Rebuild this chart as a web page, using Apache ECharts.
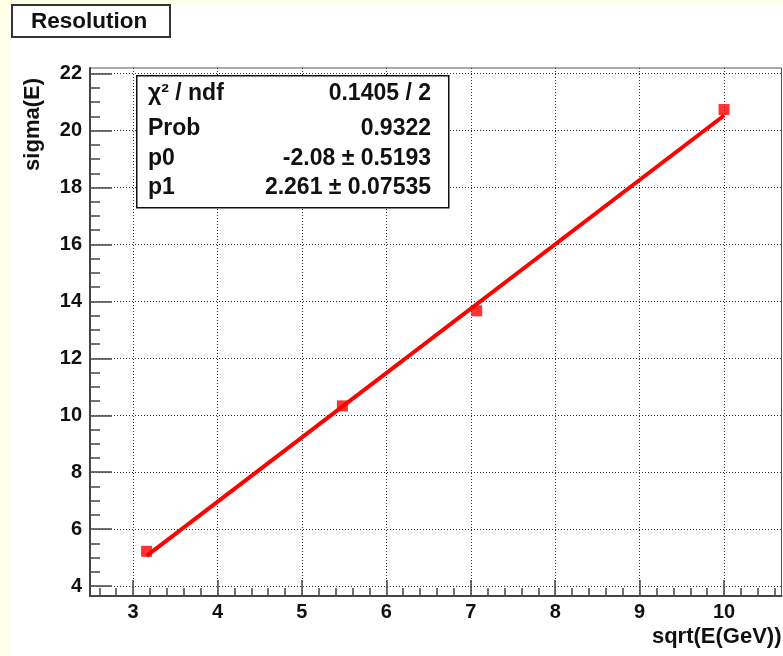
<!DOCTYPE html>
<html>
<head>
<meta charset="utf-8">
<script src="https://cdn.jsdelivr.net/npm/echarts@6/dist/echarts.min.js"></script>
<style>
html,body{margin:0;padding:0;background:#fff;}
#chart{width:783px;height:656px;}
</style>
</head>
<body>
<div id="chart"></div>
<script>
// Measured points (sqrt(E), sigma(E))
const xValues = [3.16, 5.48, 7.07, 10.0];
const yValues = [5.22, 10.33, 13.67, 20.74];
// Fit line endpoints
const fitX = [3.16, 10.0];
const fitY = [5.06, 20.53];
// Tick labels
const xTicks = [3, 4, 5, 6, 7, 8, 9, 10];
const yTicks = [4, 6, 8, 10, 12, 14, 16, 18, 20, 22];
const xMinorTicks = [2.6, 2.8, 3.2, 3.4, 3.6, 3.8, 4.2, 4.4, 4.6, 4.8, 5.2, 5.4, 5.6, 5.8, 6.2, 6.4, 6.6, 6.8, 7.2, 7.4, 7.6, 7.8, 8.2, 8.4, 8.6, 8.8, 9.2, 9.4, 9.6, 9.8, 10.2, 10.4, 10.6];
const yMinorTicks = [4.5, 5, 5.5, 6.5, 7, 7.5, 8.5, 9, 9.5, 10.5, 11, 11.5, 12.5, 13, 13.5, 14.5, 15, 15.5, 16.5, 17, 17.5, 18.5, 19, 19.5, 20.5, 21, 21.5];
// Stats box
const statNames = ['\u03C7\u00B2 / ndf', 'Prob', 'p0', 'p1'];
const statValues = ['0.1405 / 2', '0.9322', '-2.08 \u00B1 0.5193', '2.261 \u00B1 0.07535'];
const titleText = 'Resolution';
const xName = 'sqrt(E(GeV))';
const yName = 'sigma(E)';

const X_MIN = 2.49, X_MAX = 10.68, Y_MIN = 3.65, Y_MAX = 22.2;
const FONT = '"Liberation Sans", Arial, Helvetica, sans-serif';

const chart = echarts.init(document.getElementById('chart'), null, {renderer: 'canvas'});

const gridPos = {left: 90, top: 68, right: 1.5, bottom: 60};

const statGraphics = [];
const rowY = [95, 130, 160, 189];
statNames.forEach((n, i) => {
  statGraphics.push({
    type: 'text', left: 148, top: rowY[i] - 13, z: 101,
    style: {text: n, font: 'bold 23px ' + FONT, fill: '#111'}
  });
  statGraphics.push({
    type: 'text', right: 783 - 431, top: rowY[i] - 13, z: 101,
    style: {text: statValues[i], font: 'bold 23px ' + FONT, fill: '#111', textAlign: 'right'}
  });
});

const option = {
  backgroundColor: '#ffffff',
  animation: false,
  grid: [
    Object.assign({show: true, backgroundColor: '#fff', borderColor: '#555', borderWidth: 1, outerBoundsMode: 'none', containLabel: false}, gridPos),
    Object.assign({show: false, outerBoundsMode: 'none', containLabel: false}, gridPos)
  ],
  xAxis: [{
    type: 'value', gridIndex: 0, min: X_MIN, max: X_MAX,
    name: xName, nameLocation: 'end', nameGap: 0,
    nameTextStyle: {align: 'right', verticalAlign: 'top', padding: [30, 0, 0, 0], fontSize: 22, fontWeight: 'bold', fontFamily: FONT, color: '#111'},
    axisLine: {show: true, onZero: false, lineStyle: {color: '#444', width: 2}},
    axisTick: {show: true, inside: true, length: 16, customValues: xTicks, lineStyle: {color: '#444', width: 1.5}},
    axisLabel: {show: true, customValues: xTicks, margin: 6, fontSize: 20, fontWeight: 'bold', fontFamily: FONT, color: '#111'},
    splitLine: {show: true, lineStyle: {color: '#333', width: 1, type: [1, 2]}}
  }, {
    type: 'value', gridIndex: 1, min: X_MIN, max: X_MAX,
    axisLine: {show: false},
    axisTick: {show: true, inside: true, length: 8, customValues: xMinorTicks, lineStyle: {color: '#444', width: 1.5}},
    axisLabel: {show: false},
    splitLine: {show: false}
  }],
  yAxis: [{
    type: 'value', gridIndex: 0, min: Y_MIN, max: Y_MAX,
    name: yName, nameLocation: 'end', nameGap: -10, nameRotate: 90,
    nameTextStyle: {align: 'right', verticalAlign: 'bottom', padding: [0, 0, 46, 0], fontSize: 22, fontWeight: 'bold', fontFamily: FONT, color: '#111'},
    axisLine: {show: true, onZero: false, lineStyle: {color: '#444', width: 2}},
    axisTick: {show: true, inside: true, length: 22, customValues: yTicks, lineStyle: {color: '#444', width: 1.5}},
    axisLabel: {show: true, customValues: yTicks, margin: 8, fontSize: 20, fontWeight: 'bold', fontFamily: FONT, color: '#111'},
    splitLine: {show: true, lineStyle: {color: '#333', width: 1, type: [1, 2]}}
  }, {
    type: 'value', gridIndex: 1, min: Y_MIN, max: Y_MAX,
    axisLine: {show: false},
    axisTick: {show: true, inside: true, length: 10, customValues: yMinorTicks, lineStyle: {color: '#444', width: 1.5}},
    axisLabel: {show: false},
    splitLine: {show: false}
  }],
  series: [{
    type: 'line', xAxisIndex: 0, yAxisIndex: 0,
    data: fitX.map((x, i) => [x, fitY[i]]),
    showSymbol: false, symbol: 'none',
    lineStyle: {color: '#ff0000', width: 4}, z: 3
  }, {
    type: 'scatter', xAxisIndex: 0, yAxisIndex: 0,
    data: xValues.map((x, i) => [x, yValues[i]]),
    symbol: 'rect', symbolSize: 11,
    itemStyle: {color: '#ff0000'}, z: 4
  }],
  graphic: [
    {type: 'rect', left: 0, top: 0, z: -10, silent: true, shape: {width: 10, height: 656}, style: {fill: '#ffffe6'}},
    {type: 'rect', left: 0, top: 0, z: -10, silent: true, shape: {width: 783, height: 3}, style: {fill: '#ffffe6'}},
    {type: 'rect', left: 11, top: 4, z: 100, shape: {width: 158, height: 32}, style: {fill: '#fff', stroke: '#333', lineWidth: 2}},
    {type: 'text', left: 31, top: 10, z: 101, style: {text: titleText, font: 'bold 22.5px ' + FONT, fill: '#111'}},
    {type: 'rect', left: 136, top: 75, z: 100, shape: {width: 312, height: 132}, style: {fill: '#fff', stroke: '#111', lineWidth: 1.5}}
  ].concat(statGraphics)
};
chart.setOption(option);
</script>
</body>
</html>
